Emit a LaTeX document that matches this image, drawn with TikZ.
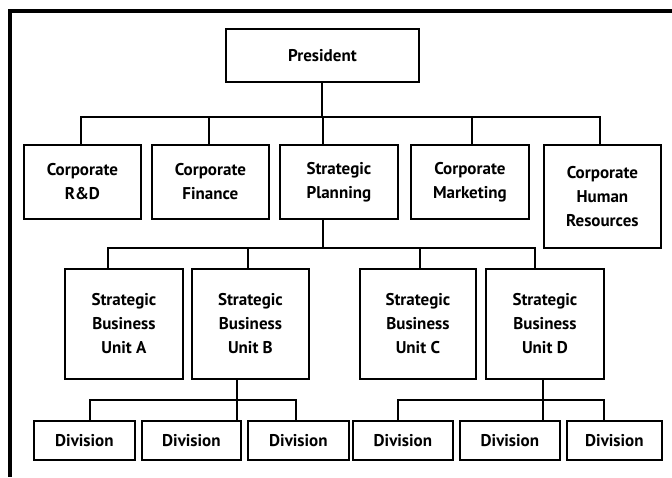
\documentclass[tikz,border=0pt]{standalone}
\usepackage{fontspec}
\setmainfont{PT Sans}
\begin{document}
\begin{tikzpicture}[x=1pt,y=-1pt,
  box/.style={draw=black,line width=1.8pt,fill=white,anchor=north west,inner sep=0pt,
    align=center,font=\bfseries\fontsize{17}{24}\selectfont},
  wire/.style={line width=1.8pt,line cap=rect},
  frame/.style={line width=4pt}]
\useasboundingbox (0,0) rectangle (672,477);
% frame (top and left)
\coordinate (fa) at (672,11);
\coordinate (fb) at (10,11);
\coordinate (fc) at (10,477);
\draw[frame] (fa) -- (fb) -- (fc);
% bus coordinates
\coordinate (bus1) at (0,117);
\coordinate (bus2) at (0,248);
\coordinate (bus3) at (0,400);
% boxes
\node[box,minimum width=193pt,minimum height=53pt] (pres) at (225,28) {President};
\node[box,minimum width=117pt,minimum height=74pt] (rd) at (23,144) {Corporate\\R\&D};
\node[box,minimum width=117pt,minimum height=74pt] (fin) at (151,144) {Corporate\\Finance};
\node[box,minimum width=118pt,minimum height=74pt] (plan) at (279,144) {Strategic\\Planning};
\node[box,minimum width=118pt,minimum height=74pt] (mkt) at (410,144) {Corporate\\Marketing};
\node[box,minimum width=117pt,minimum height=103pt] (hr) at (543,144) {Corporate\\Human\\Resources};
\node[box,minimum width=118pt,minimum height=110pt] (sa) at (64,268) {Strategic\\Business\\Unit A};
\node[box,minimum width=117pt,minimum height=110pt] (sb) at (191,268) {Strategic\\Business\\Unit B};
\node[box,minimum width=116pt,minimum height=110pt] (sc) at (359,268) {Strategic\\Business\\Unit C};
\node[box,minimum width=118pt,minimum height=110pt] (sd) at (485,268) {Strategic\\Business\\Unit D};
\node[box,minimum width=101pt,minimum height=39pt] (d1) at (33,420) {Division};
\node[box,minimum width=99pt,minimum height=39pt] (d2) at (141,420) {Division};
\node[box,minimum width=101pt,minimum height=39pt] (d3) at (247,420) {Division};
\node[box,minimum width=100pt,minimum height=39pt] (d4) at (352,420) {Division};
\node[box,minimum width=100pt,minimum height=39pt] (d5) at (459,420) {Division};
\node[box,minimum width=95pt,minimum height=39pt] (d6) at (566,420) {Division};
% president to level 2
\draw[wire] ([xshift=-0.5pt]pres.south) -- ([xshift=-0.5pt]pres.south |- bus1);
\draw[wire] ([xshift=-1.5pt]rd.north |- bus1) -- ([xshift=-2.5pt]hr.north |- bus1);
\draw[wire] ([xshift=-1.5pt]rd.north |- bus1) -- ([xshift=-1.5pt]rd.north);
\draw[wire] ([xshift=-1.5pt]fin.north |- bus1) -- ([xshift=-1.5pt]fin.north);
\draw[wire] ([xshift=-16pt]plan.north |- bus1) -- ([xshift=-16pt]plan.north);
\draw[wire] ([xshift=2pt]mkt.north |- bus1) -- ([xshift=2pt]mkt.north);
\draw[wire] ([xshift=-2.5pt]hr.north |- bus1) -- ([xshift=-2.5pt]hr.north);
% planning to SBUs
\draw[wire] ([xshift=-16pt]plan.south) -- ([xshift=-16pt]plan.south |- bus2);
\draw[wire] ([xshift=-16pt]sa.north |- bus2) -- ([xshift=-10pt]sd.north |- bus2);
\draw[wire] ([xshift=-16pt]sa.north |- bus2) -- ([xshift=-16pt]sa.north);
\draw[wire] ([xshift=-2.5pt]sb.north |- bus2) -- ([xshift=-2.5pt]sb.north);
\draw[wire] ([xshift=2pt]sc.north |- bus2) -- ([xshift=2pt]sc.north);
\draw[wire] ([xshift=-10pt]sd.north |- bus2) -- ([xshift=-10pt]sd.north);
% SBU B to divisions
\draw[wire] ([xshift=-13.5pt]sb.south) -- ([xshift=-13.5pt]sb.south |- bus3);
\draw[wire] ([xshift=5.5pt]d1.north |- bus3) -- ([xshift=-2.5pt]d3.north |- bus3);
\draw[wire] ([xshift=5.5pt]d1.north |- bus3) -- ([xshift=5.5pt]d1.north);
\draw[wire] ([xshift=45.5pt]d2.north |- bus3) -- ([xshift=45.5pt]d2.north);
\draw[wire] ([xshift=-2.5pt]d3.north |- bus3) -- ([xshift=-2.5pt]d3.north);
% SBU D to divisions
\draw[wire] ([xshift=-2pt]sd.south) -- ([xshift=-2pt]sd.south |- bus3);
\draw[wire] ([xshift=-5pt]d4.north |- bus3) -- ([xshift=-10.5pt]d6.north |- bus3);
\draw[wire] ([xshift=-5pt]d4.north |- bus3) -- ([xshift=-5pt]d4.north);
\draw[wire] ([xshift=33pt]d5.north |- bus3) -- ([xshift=33pt]d5.north);
\draw[wire] ([xshift=-10.5pt]d6.north |- bus3) -- ([xshift=-10.5pt]d6.north);
\end{tikzpicture}
\end{document}
